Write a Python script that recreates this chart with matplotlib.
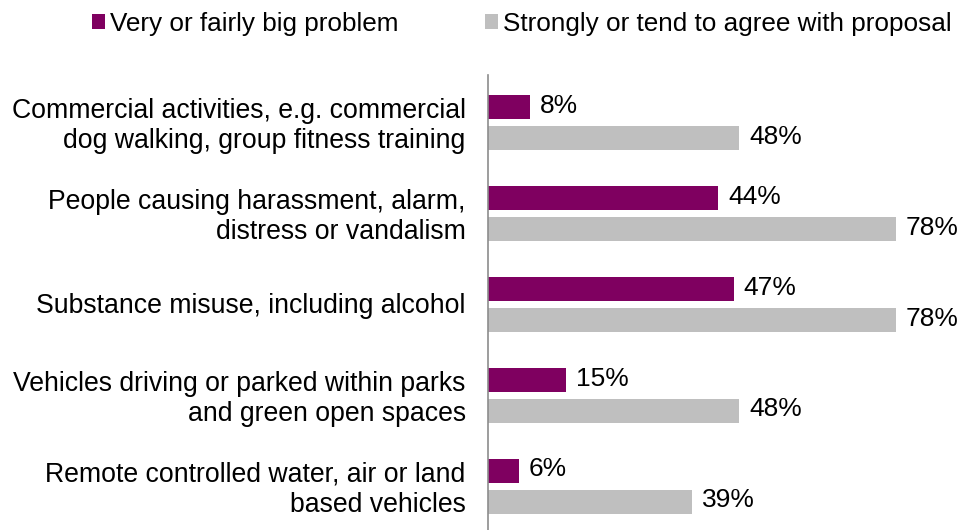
import matplotlib
matplotlib.use("Agg")
import matplotlib.pyplot as plt
import numpy as np

categories = [
    "Commercial activities, e.g. commercial\ndog walking, group fitness training",
    "People causing harassment, alarm,\ndistress or vandalism",
    "Substance misuse, including alcohol",
    "Vehicles driving or parked within parks\nand green open spaces",
    "Remote controlled water, air or land\nbased vehicles",
]
big_problem = [8, 44, 47, 15, 6]
agree_proposal = [48, 78, 78, 48, 39]
series_names = ["Very or fairly big problem", "Strongly or tend to agree with proposal"]

purple = "#7f0060"
grey = "#bfbfbf"

plt.rcParams["font.family"] = ["Liberation Sans", "DejaVu Sans"]

fig = plt.figure(figsize=(9.68, 5.30), dpi=100)
ax = fig.add_axes([0.504, 0.0, 0.47, 0.858])

y = np.arange(len(categories))
h = 0.264
off = 0.17
b1 = ax.barh(y - off + 0.02, big_problem, height=h, color=purple, label=series_names[0])
b2 = ax.barh(y + off + 0.02, agree_proposal, height=h, color=grey, label=series_names[1])

for bars, vals in ((b1, big_problem), (b2, agree_proposal)):
    for bar, v in zip(bars, vals):
        ax.annotate(f"{v}%", (v, bar.get_y() + bar.get_height() / 2),
                    xytext=(7, 1), textcoords="offset points",
                    ha="left", va="center", fontsize=19, clip_on=False)

ax.set_xlim(0, 86.9)
ax.set_ylim(len(categories) - 0.5, -0.5)
ax.set_yticks(y)
ax.set_yticklabels(categories, fontsize=19.2, linespacing=1.2)
ax.tick_params(axis="y", length=0, pad=16)
ax.set_xticks([])
for side in ("top", "right", "bottom"):
    ax.spines[side].set_visible(False)
ax.spines["left"].set_color("#8c8c8c")
ax.spines["left"].set_linewidth(1.2)

fig.legend(handles=[b1, b2], loc="upper center", bbox_to_anchor=(0.539, 1.022),
           ncol=2, frameon=False, fontsize=18.8, handlelength=0.5, handleheight=0.5,
           handletextpad=0.2, columnspacing=3.3)

fig.savefig("out.png", dpi=100)
